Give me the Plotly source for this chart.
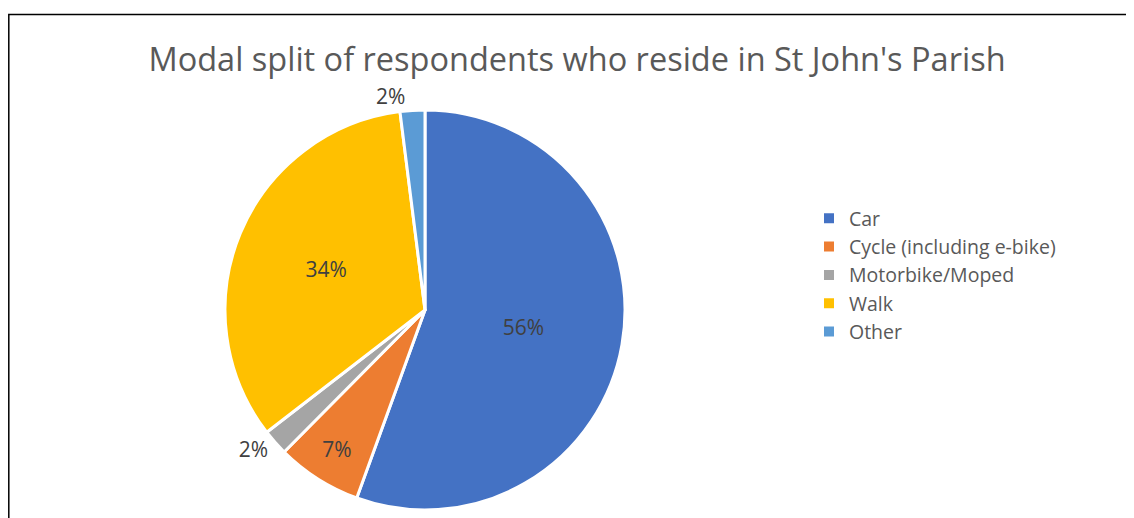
import plotly.graph_objects as go

# Modal split data (percent of respondents)
modes = ["Car", "Cycle (including e-bike)", "Motorbike/Moped", "Walk", "Other"]
shares = [55.6, 6.9, 2.1, 33.5, 2.0]
labels_text = ["56%", "7%", "2%", "34%", "2%"]
colors = ["#4472C4", "#ED7D31", "#A5A5A5", "#FFC000", "#5B9BD5"]

W, H = 1134, 518
FONT = "Open Sans, Liberation Sans, sans-serif"

# page body adds an 8px offset, so positions below are shifted by that
fig = go.Figure(go.Pie(
    labels=modes,
    values=shares,
    text=labels_text,
    textinfo="text",
    textposition=["inside", "inside", "outside", "inside", "outside"],
    insidetextorientation="horizontal",
    textfont=dict(family=FONT, size=21, color="#404040"),
    marker=dict(colors=colors, line=dict(color="white", width=3)),
    sort=False,
    direction="clockwise",
    rotation=0,
    domain=dict(x=[217 / W, 617 / W], y=[16 / H, 416 / H]),
    hoverinfo="label+percent",
))

fig.update_layout(
    width=W,
    height=H,
    margin=dict(l=0, r=0, t=0, b=0),
    paper_bgcolor="white",
    plot_bgcolor="white",
    font=dict(family=FONT, color="#595959"),
    title=dict(
        text="Modal split of respondents who reside in St John's Parish",
        x=569 / W, xanchor="center",
        y=(H - 52) / H, yanchor="middle",
        font=dict(size=32.5, color="#595959", family=FONT),
    ),
    legend=dict(
        x=801 / W, xanchor="left",
        y=(H - 267) / H, yanchor="middle",
        font=dict(size=19.5, color="#595959", family=FONT),
        itemsizing="constant",
        tracegroupgap=0,
    ),
    shapes=[dict(
        type="rect", xref="paper", yref="paper",
        x0=0.8 / W, x1=1.05, y0=-0.05, y1=(H - 6.5) / H,
        line=dict(color="#000000", width=1.5),
    )],
)

fig.write_html("out.html")
